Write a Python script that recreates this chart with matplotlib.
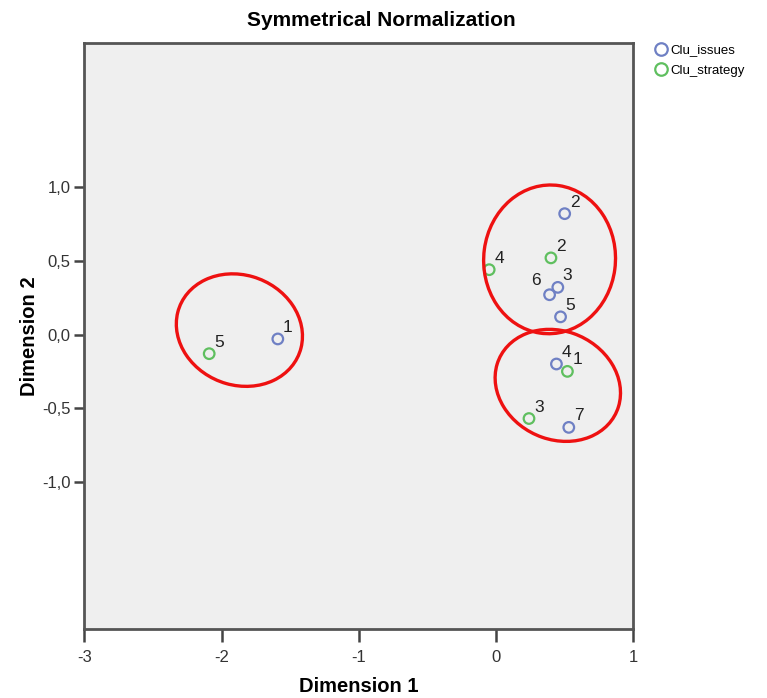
import matplotlib
matplotlib.use("Agg")
import matplotlib.pyplot as plt
from matplotlib.patches import Ellipse
from matplotlib.lines import Line2D

plt.rcParams['font.family'] = ['Liberation Sans', 'DejaVu Sans']

# Category coordinates (Dimension 1, Dimension 2)
issues_labels = ["1", "2", "3", "4", "5", "6", "7"]
issues_x = [-1.59, 0.50, 0.45, 0.44, 0.47, 0.39, 0.53]
issues_y = [-0.03, 0.82, 0.32, -0.20, 0.12, 0.27, -0.63]

strategy_labels = ["1", "2", "3", "4", "5"]
strategy_x = [0.52, 0.40, 0.24, -0.05, -2.09]
strategy_y = [-0.25, 0.52, -0.57, 0.44, -0.13]

x_ticks = [-3, -2, -1, 0, 1]
y_ticks = [-1.0, -0.5, 0.0, 0.5, 1.0]
y_tick_labels = ["-1,0", "-0,5", "0,0", "0,5", "1,0"]

# Cluster outlines: centre x, centre y, width, height, angle
clusters = [
    (-1.87, 0.03, 0.93, 0.75, -15),
    (0.39, 0.51, 0.96, 1.01, -8),
    (0.45, -0.345, 0.93, 0.74, -18),
]

blue = "#6f80c4"
green = "#5fbf5f"

fig = plt.figure(figsize=(7.67, 6.98), dpi=100)
ax = fig.add_axes([84.3 / 767, 1 - 629.3 / 698, (633.3 - 84.3) / 767, (629.3 - 42.7) / 698])
ax.set_facecolor("#efefef")
ax.set_xlim(-3, 1)
ax.set_ylim(-2.0, 1.98)

ax.scatter(issues_x, issues_y, s=58, facecolors="none", edgecolors=blue, linewidths=1.6, zorder=3)
ax.scatter(strategy_x, strategy_y, s=58, facecolors="none", edgecolors=green, linewidths=1.6, zorder=3)

for lab, x, y in zip(issues_labels, issues_x, issues_y):
    dx, dy = (-9, 7) if lab == "6" else (5, 4)
    ha = "right" if lab == "6" else "left"
    ax.annotate(lab, (x, y), xytext=(dx, dy), textcoords="offset pixels",
                fontsize=12.5, ha=ha, va="bottom", color="#222222")
for lab, x, y in zip(strategy_labels, strategy_x, strategy_y):
    ax.annotate(lab, (x, y), xytext=(5, 4), textcoords="offset pixels",
                fontsize=12.5, ha="left", va="bottom", color="#222222")

for cx, cy, w, h, ang in clusters:
    ax.add_patch(Ellipse((cx, cy), w, h, angle=ang, fill=False,
                         edgecolor="#ee1111", linewidth=2.4, zorder=4))

ax.set_xticks(x_ticks)
ax.set_xticklabels([str(t) for t in x_ticks])
ax.set_yticks(y_ticks)
ax.set_yticklabels(y_tick_labels)
ax.tick_params(axis="both", direction="out", length=9, width=1.8, color="#444444",
               labelsize=12, labelcolor="#333333", top=False, right=False)
ax.tick_params(axis="x", pad=6)
ax.tick_params(axis="y", length=7, pad=3)
for sp in ax.spines.values():
    sp.set_color("#555555")
    sp.set_linewidth(2.0)

ax.set_xlabel("Dimension 1", fontsize=14.5, fontweight="bold", va="center")
ax.xaxis.set_label_coords(0.5, (629.3 - 686) / 586.6)
ax.set_ylabel("Dimension 2", fontsize=14.5, fontweight="bold", va="center")
ax.yaxis.set_label_coords((30 - 84.3) / 549, 0.5)
fig.text(0.497, 0.97, "Symmetrical Normalization", fontsize=15, fontweight="bold",
         ha="center", va="center")

handles = [
    Line2D([], [], marker="o", linestyle="none", markersize=9, markerfacecolor="none",
           markeredgecolor=blue, markeredgewidth=1.6, label="Clu_issues"),
    Line2D([], [], marker="o", linestyle="none", markersize=9, markerfacecolor="none",
           markeredgecolor=green, markeredgewidth=1.6, label="Clu_strategy"),
]
fig.legend(handles=handles, loc="upper left", bbox_to_anchor=(648 / 767, 1 - 39 / 698),
           frameon=False, fontsize=9.5, handletextpad=0.1, borderaxespad=0,
           labelspacing=0.6, handlelength=1.2)

fig.savefig("out.png", dpi=100)
